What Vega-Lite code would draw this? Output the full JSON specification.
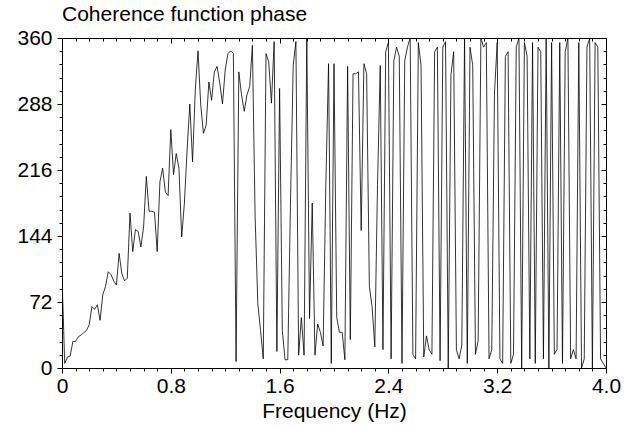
{
  "$schema": "https://vega.github.io/schema/vega-lite/v6.json",
  "width": 544,
  "height": 330,
  "autosize": "none",
  "padding": {"left": 62, "top": 38, "right": 26, "bottom": 57},
  "background": "white",
  "config": {
    "font": "Liberation Sans",
    "view": {"stroke": "black", "strokeWidth": 1},
    "axis": {"labelFont": "Liberation Sans", "titleFont": "Liberation Sans", "labelColor": "black", "titleColor": "black", "domainColor": "black", "tickColor": "black", "grid": false}
  },
  "title": {"text": "Coherence function phase", "anchor": "start", "frame": "group", "fontSize": 21, "fontWeight": "normal", "font": "Liberation Sans", "color": "black", "offset": 2},
  "data": {"values": [
    {"f":0.00,"p":100},{"f":0.02,"p":5},{"f":0.04,"p":12},{"f":0.06,"p":13},{"f":0.08,"p":29},{"f":0.10,"p":29},{"f":0.12,"p":34},{"f":0.14,"p":36},{"f":0.16,"p":38.5},{"f":0.18,"p":41},
    {"f":0.20,"p":47},{"f":0.22,"p":67},{"f":0.24,"p":64},{"f":0.26,"p":69},{"f":0.28,"p":52},{"f":0.30,"p":80},{"f":0.32,"p":89},{"f":0.34,"p":105},{"f":0.36,"p":102},{"f":0.38,"p":95},
    {"f":0.40,"p":90.5},{"f":0.42,"p":125},{"f":0.44,"p":103},{"f":0.46,"p":95},{"f":0.48,"p":98},{"f":0.50,"p":169},{"f":0.52,"p":127},{"f":0.54,"p":151},{"f":0.56,"p":149},{"f":0.58,"p":132},
    {"f":0.60,"p":154},{"f":0.62,"p":209},{"f":0.64,"p":171},{"f":0.66,"p":171},{"f":0.68,"p":170},{"f":0.70,"p":127},{"f":0.72,"p":203},{"f":0.74,"p":218},{"f":0.76,"p":192},{"f":0.78,"p":188},
    {"f":0.80,"p":260},{"f":0.82,"p":211},{"f":0.84,"p":234},{"f":0.86,"p":218},{"f":0.88,"p":143},{"f":0.90,"p":180},{"f":0.92,"p":238},{"f":0.94,"p":288},{"f":0.96,"p":225},{"f":0.98,"p":303},
    {"f":1.00,"p":346},{"f":1.02,"p":287},{"f":1.04,"p":256},{"f":1.06,"p":265},{"f":1.08,"p":312},{"f":1.10,"p":292},{"f":1.12,"p":323},{"f":1.14,"p":329},{"f":1.16,"p":311},{"f":1.18,"p":288},
    {"f":1.20,"p":325},{"f":1.22,"p":343},{"f":1.24,"p":346},{"f":1.26,"p":343},{"f":1.28,"p":7},{"f":1.30,"p":323},{"f":1.32,"p":298},{"f":1.34,"p":280},{"f":1.36,"p":298},{"f":1.38,"p":307},
    {"f":1.40,"p":352},{"f":1.42,"p":165},{"f":1.44,"p":70},{"f":1.46,"p":41},{"f":1.48,"p":10},{"f":1.50,"p":343},{"f":1.52,"p":334},{"f":1.54,"p":289},{"f":1.56,"p":356},{"f":1.58,"p":18},
    {"f":1.60,"p":305},{"f":1.62,"p":41},{"f":1.64,"p":9},{"f":1.66,"p":9},{"f":1.68,"p":180},{"f":1.70,"p":330},{"f":1.72,"p":356},{"f":1.74,"p":14},{"f":1.76,"p":55},{"f":1.78,"p":14},
    {"f":1.80,"p":360},{"f":1.82,"p":54},{"f":1.84,"p":180},{"f":1.86,"p":14},{"f":1.88,"p":48},{"f":1.90,"p":39},{"f":1.92,"p":24},{"f":1.94,"p":200},{"f":1.96,"p":332},{"f":1.98,"p":5},
    {"f":2.00,"p":332},{"f":2.02,"p":55},{"f":2.04,"p":39},{"f":2.06,"p":39},{"f":2.08,"p":9},{"f":2.10,"p":329},{"f":2.12,"p":31},{"f":2.14,"p":321},{"f":2.16,"p":321},{"f":2.18,"p":323},
    {"f":2.20,"p":150},{"f":2.22,"p":332},{"f":2.24,"p":321},{"f":2.26,"p":89},{"f":2.28,"p":67},{"f":2.30,"p":23},{"f":2.32,"p":200},{"f":2.34,"p":330},{"f":2.36,"p":20},{"f":2.38,"p":345},
    {"f":2.40,"p":355},{"f":2.42,"p":10},{"f":2.44,"p":335},{"f":2.46,"p":350},{"f":2.48,"p":340},{"f":2.50,"p":5},{"f":2.52,"p":335},{"f":2.54,"p":350},{"f":2.56,"p":360},{"f":2.58,"p":15},
    {"f":2.60,"p":10},{"f":2.62,"p":355},{"f":2.64,"p":330},{"f":2.66,"p":12},{"f":2.68,"p":35},{"f":2.70,"p":20},{"f":2.72,"p":15},{"f":2.74,"p":345},{"f":2.76,"p":350},{"f":2.78,"p":8},
    {"f":2.80,"p":350},{"f":2.82,"p":356},{"f":2.84,"p":0},{"f":2.86,"p":320},{"f":2.88,"p":345},{"f":2.90,"p":20},{"f":2.92,"p":10},{"f":2.94,"p":25},{"f":2.96,"p":360},{"f":2.98,"p":5},
    {"f":3.00,"p":350},{"f":3.02,"p":330},{"f":3.04,"p":15},{"f":3.06,"p":30},{"f":3.08,"p":360},{"f":3.10,"p":350},{"f":3.12,"p":355},{"f":3.14,"p":10},{"f":3.16,"p":20},{"f":3.18,"p":300},
    {"f":3.20,"p":355},{"f":3.22,"p":10},{"f":3.24,"p":5},{"f":3.26,"p":340},{"f":3.28,"p":345},{"f":3.30,"p":5},{"f":3.32,"p":15},{"f":3.34,"p":350},{"f":3.36,"p":360},{"f":3.38,"p":0},
    {"f":3.40,"p":355},{"f":3.42,"p":340},{"f":3.44,"p":10},{"f":3.46,"p":355},{"f":3.48,"p":5},{"f":3.50,"p":350},{"f":3.52,"p":345},{"f":3.54,"p":10},{"f":3.56,"p":360},{"f":3.58,"p":0},
    {"f":3.60,"p":355},{"f":3.62,"p":15},{"f":3.64,"p":20},{"f":3.66,"p":355},{"f":3.68,"p":5},{"f":3.70,"p":345},{"f":3.72,"p":360},{"f":3.74,"p":10},{"f":3.76,"p":20},{"f":3.78,"p":10},
    {"f":3.80,"p":355},{"f":3.82,"p":0},{"f":3.84,"p":10},{"f":3.86,"p":350},{"f":3.88,"p":360},{"f":3.90,"p":0},{"f":3.92,"p":355},{"f":3.94,"p":350},{"f":3.96,"p":10},{"f":3.98,"p":5},
    {"f":4.00,"p":0}
  ]},
  "layer": [
    {
      "mark": {"type": "line", "color": "black", "strokeWidth": 0.8, "clip": true},
      "encoding": {
        "x": {"field": "f", "type": "quantitative", "scale": {"domain": [0, 4], "nice": false, "zero": false},
          "axis": {"orient": "bottom", "title": "Frequency (Hz)", "titleFontSize": 21, "titleFontWeight": "normal", "titlePadding": 4,
            "values": [0,0.1,0.2,0.3,0.4,0.5,0.6,0.7,0.8,0.9,1.0,1.1,1.2,1.3,1.4,1.5,1.6,1.7,1.8,1.9,2.0,2.1,2.2,2.3,2.4,2.5,2.6,2.7,2.8,2.9,3.0,3.1,3.2,3.3,3.4,3.5,3.6,3.7,3.8,3.9,4.0],
            "labelExpr": "abs(datum.value/0.8 - round(datum.value/0.8)) < 0.001 ? (datum.value == 0 ? '0' : format(datum.value, '.1f')) : ''",
            "labelFontSize": 21, "labelPadding": 2, "labelFlush": false, "labelOverlap": false,
            "tickSize": {"condition": {"test": "abs(datum.value/0.8 - round(datum.value/0.8)) < 0.001", "value": 5}, "value": 3},
            "domain": false}},
        "y": {"field": "p", "type": "quantitative", "scale": {"domain": [0, 360], "nice": false},
          "axis": {"orient": "left", "title": null,
            "values": [0,14.4,28.8,43.2,57.6,72,86.4,100.8,115.2,129.6,144,158.4,172.8,187.2,201.6,216,230.4,244.8,259.2,273.6,288,302.4,316.8,331.2,345.6,360],
            "labelExpr": "abs(datum.value/72 - round(datum.value/72)) < 0.001 ? format(datum.value, 'd') : ''",
            "labelFontSize": 21, "labelPadding": 5, "labelFlush": false, "labelOverlap": false,
            "tickSize": {"condition": {"test": "abs(datum.value/72 - round(datum.value/72)) < 0.001", "value": 5}, "value": 3},
            "domain": false}}
      }
    },
    {
      "mark": {"type": "line", "opacity": 0},
      "encoding": {
        "x": {"field": "f", "type": "quantitative", "scale": {"domain": [0, 4], "nice": false, "zero": false},
          "axis": {"orient": "top", "title": null, "labels": false, "domain": false,
            "values": [0,0.1,0.2,0.3,0.4,0.5,0.6,0.7,0.8,0.9,1.0,1.1,1.2,1.3,1.4,1.5,1.6,1.7,1.8,1.9,2.0,2.1,2.2,2.3,2.4,2.5,2.6,2.7,2.8,2.9,3.0,3.1,3.2,3.3,3.4,3.5,3.6,3.7,3.8,3.9,4.0],
            "tickSize": {"condition": {"test": "abs(datum.value/0.8 - round(datum.value/0.8)) < 0.001", "value": -5}, "value": -3}}},
        "y": {"field": "p", "type": "quantitative", "scale": {"domain": [0, 360], "nice": false},
          "axis": {"orient": "right", "title": null, "labels": false, "domain": false,
            "values": [0,14.4,28.8,43.2,57.6,72,86.4,100.8,115.2,129.6,144,158.4,172.8,187.2,201.6,216,230.4,244.8,259.2,273.6,288,302.4,316.8,331.2,345.6,360],
            "tickSize": {"condition": {"test": "abs(datum.value/72 - round(datum.value/72)) < 0.001", "value": -5}, "value": -3}}}
      }
    }
  ],
  "resolve": {"axis": {"x": "independent", "y": "independent"}}
}
